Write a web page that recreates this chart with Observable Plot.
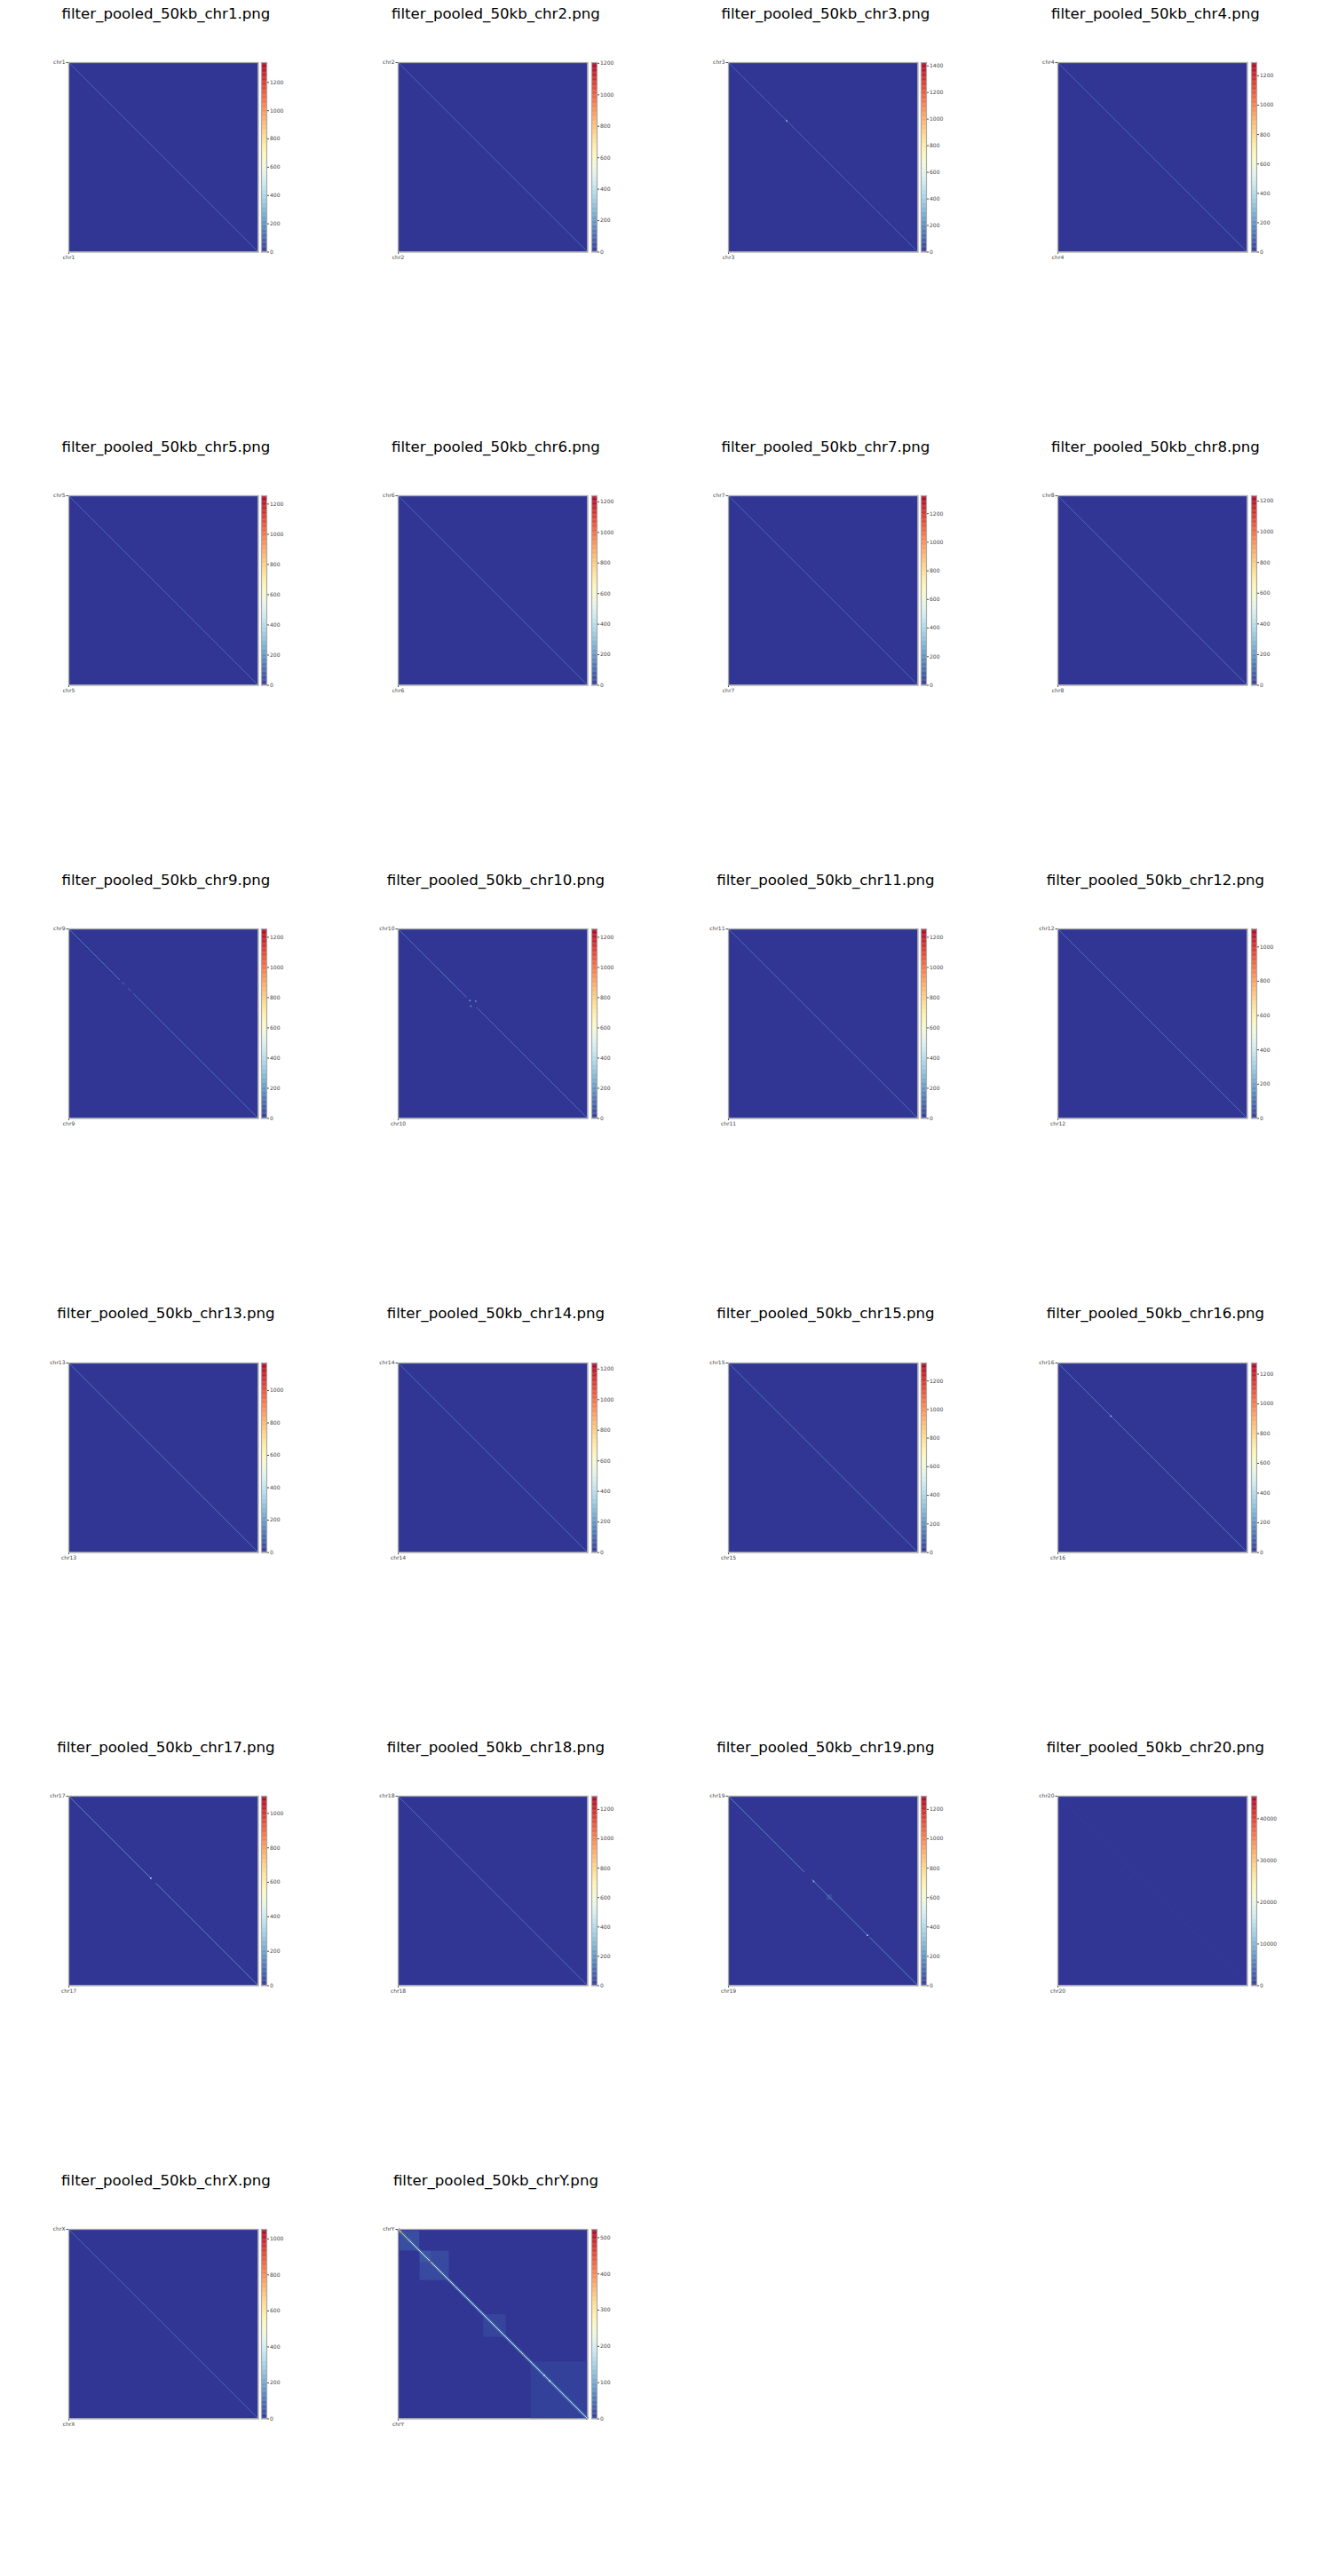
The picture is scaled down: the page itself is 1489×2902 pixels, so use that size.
<!DOCTYPE html>
<html><head><meta charset="utf-8">
<script src="https://cdn.jsdelivr.net/npm/d3@7"></script>
<script src="https://cdn.jsdelivr.net/npm/@observablehq/plot@0.6"></script>
<style>
body{margin:0;background:#fff;}
#fig{position:relative;width:1489px;height:2902px;background:#fff;overflow:hidden;font-family:"DejaVu Sans",sans-serif;}
.title{position:absolute;font-size:16.6px;line-height:20px;white-space:nowrap;transform:translateX(-50%);color:#000;font-family:"DejaVu Sans",sans-serif;}
.panel{position:absolute;display:block;}
</style></head><body><div id="fig"></div>
<script>
// chromosome names and matrix sizes (number of 50 kb bins)
const chroms = ["chr1","chr2","chr3","chr4","chr5","chr6","chr7","chr8","chr9","chr10","chr11","chr12",
  "chr13","chr14","chr15","chr16","chr17","chr18","chr19","chr20","chrX","chrY"];
const nBins = [4985,4864,3961,3824,3618,3423,3183,2928,2824,2711,2701,2678,
  2304,2147,2051,1807,1624,1562,1183,1261,3105,1188];
// colorbar maxima and tick step
const colorMax = [1340,1205,1425,1290,1255,1240,1325,1235,1255,1255,1255,1105,
  1170,1240,1325,1275,1100,1290,1290,45400,1053,523];
const tickStep = [200,200,200,200,200,200,200,200,200,200,200,200,
  200,200,200,200,200,200,200,10000,200,100];
// typical contact value along the diagonal
const diagLevel = [115,105,120,110,110,110,115,115,125,120,125,110,
  125,120,140,140,150,130,175,400,95,230];
// diagonal segments [startBin, endBin, value] where the diagonal is not uniform
const diagSegments = {
  chr9:  [[0,760,150],[790,830,125],[880,930,125],[960,2824,125]],
  chr10: [[0,540,125],[540,820,155],[820,980,125],[1120,2711,120]],
  chr17: [[0,700,165],[745,1624,150]],
  chr19: [[0,473,185],[520,868,175],[880,1183,175]],
  chrY:  [[0,60,340],[60,356,250],[356,784,220],[784,890,200],[890,1188,185]]
};
// bright pixels [xBin, yBin, value]
const hotSpots = {
  chr3:  [[1216,1216,420]],
  chr10: [[1025,1025,260],[1109,1033,220],[1038,1104,220]],
  chr16: [[506,506,330]],
  chr17: [[703,703,380]],
  chr19: [[532,532,320],[868,868,380]],
  chrY:  [[202,202,470],[784,784,410],[915,915,190],[950,950,190],[14,14,380]]
};
// domains (TAD-like blocks) along the diagonal [startBin, endBin, value]
const tadBlocks = {
  chr19: [[615,650,45]],
  chrY: [[12,135,20],[137,320,17],[137,208,26],[535,677,12],[832,1188,9]]
};
// near-diagonal enrichment (value) for chrY
const halo = {chrY: [[0,1188,40]]};

const fig = document.getElementById("fig");
const S = 213.5, mL = 28, mR = 2, mT = 3, mB = 14;
const cbR = 28;

chroms.forEach((name, i) => {
  const col = i % 4, row = Math.floor(i / 4);
  const left = 76.7 + col * 371.5, top = 70 + row * 488.2;
  const n = nBins[i], vmax = colorMax[i];
  const color = {type: "linear", scheme: "rdylbu", reverse: true, domain: [0, vmax]};
  const segs = diagSegments[name] || [[0, n, diagLevel[i]]];
  const spots = hotSpots[name] || [];
  const blocks = tadBlocks[name] || [];
  const halos = halo[name] || [];
  const axisStyle = {fontFamily: "DejaVu Sans", fontSize: "6px", color: "#444", background: "transparent", overflow: "visible"};

  const t = document.createElement("div");
  t.className = "title";
  t.textContent = `filter_pooled_50kb_${name}.png`;
  t.style.left = (left + S / 2 + 3.5) + "px";
  t.style.top = (5.75 + row * 488.2) + "px";
  fig.appendChild(t);

  const heat = Plot.plot({
    width: S + mL + mR, height: S + mT + mB,
    marginLeft: mL, marginRight: mR, marginTop: mT, marginBottom: mB,
    style: axisStyle,
    x: {domain: [0, n], ticks: [0], tickFormat: () => name, tickSize: 2.5, tickPadding: 1.5, label: null},
    y: {domain: [0, n], reverse: true, ticks: [0], tickFormat: () => name, tickSize: 2.5, tickPadding: 1.5, label: null},
    color,
    marks: [
      Plot.rect([n], {x1: () => 0, x2: d => d, y1: () => 0, y2: d => d, fill: () => 0}),
      Plot.rect(blocks, {x1: d => d[0], x2: d => d[1], y1: d => d[0], y2: d => d[1], fill: d => d[2]}),
      Plot.link(halos, {x1: d => d[0], y1: d => d[0], x2: d => d[1], y2: d => d[1], stroke: d => d[2], strokeWidth: 3.5}),
      Plot.link(segs, {x1: d => d[0], y1: d => d[0], x2: d => d[1], y2: d => d[1], stroke: d => d[2], strokeWidth: 0.9}),
      Plot.dot(spots, {x: d => d[0], y: d => d[1], fill: d => d[2], r: 0.9}),
      Plot.frame({stroke: "#a8a8a8", strokeWidth: 1.3})
    ]
  });
  heat.classList.add("panel");
  heat.style.left = (left - mL) + "px";
  heat.style.top = (top - mT) + "px";
  fig.appendChild(heat);

  const stops = d3.range(0, vmax, vmax / 256);
  const ticks = d3.range(0, vmax + 1e-9, tickStep[i]);
  const cb = Plot.plot({
    width: 6 + cbR, height: S + mT + mB,
    marginLeft: 0, marginRight: cbR, marginTop: mT, marginBottom: mB,
    style: axisStyle,
    x: {domain: [0, 1], axis: null},
    y: {domain: [0, vmax], axis: "right", ticks, tickFormat: d3.format("d"), tickSize: 2, tickPadding: 1.5, label: null},
    color,
    marks: [
      Plot.rect(stops, {x1: () => 0, x2: () => 1, y1: d => d, y2: d => Math.min(vmax, d + vmax / 200), fill: d => d}),
      Plot.frame({stroke: "#a8a8a8", strokeWidth: 1.2})
    ]
  });
  cb.classList.add("panel");
  cb.style.left = (left + S + 4) + "px";
  cb.style.top = (top - mT) + "px";
  fig.appendChild(cb);
});
</script></body></html>
